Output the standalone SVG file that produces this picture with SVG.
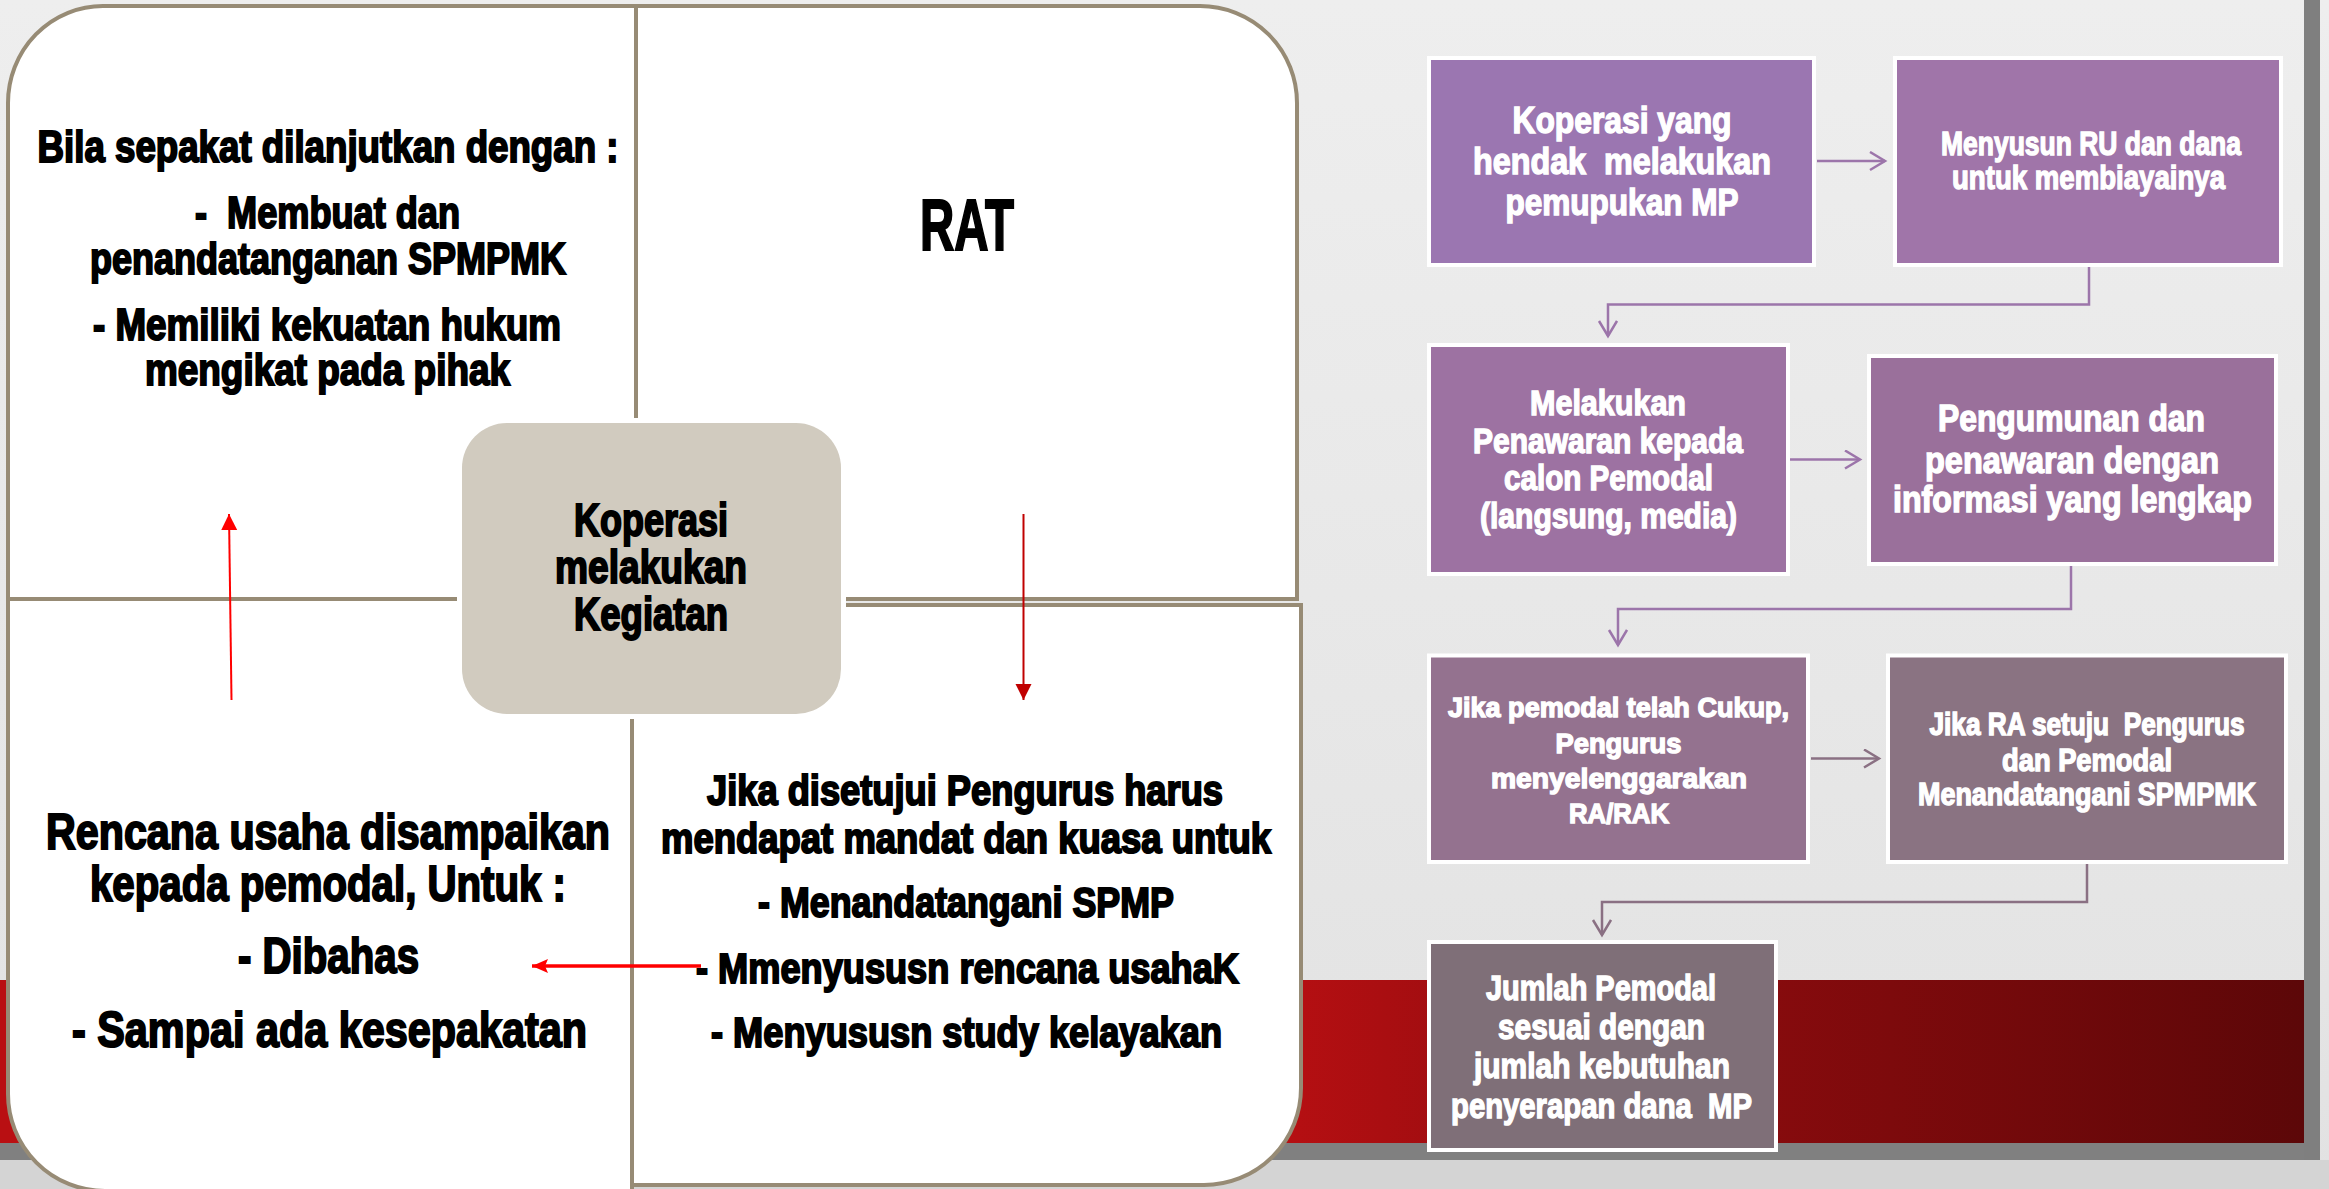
<svg xmlns="http://www.w3.org/2000/svg" width="2329" height="1189" viewBox="0 0 2329 1189">
<style>
.t{font-family:"Liberation Sans Narrow","Liberation Sans",Arial,sans-serif;font-weight:700;text-anchor:middle}
.k{fill:#000;stroke:#000;stroke-width:2}
.w{fill:#fff;stroke:#fff;stroke-width:1.4}
.q{fill:#fff;stroke:#978B75;stroke-width:4}
.box{stroke:#fff;stroke-width:4}
.c1{fill:none;stroke:#9C75AA;stroke-width:2.5}
.c2{fill:none;stroke:#8A7083;stroke-width:2.5}
</style>
<defs>
<linearGradient id="bg" x1="0" y1="0" x2="0" y2="1">
<stop offset="0" stop-color="#EEEEEE"/><stop offset="1" stop-color="#E2E2E2"/>
</linearGradient>
<linearGradient id="red" x1="0" y1="0" x2="1" y2="0">
<stop offset="0" stop-color="#B90F12"/><stop offset="0.56" stop-color="#B50F12"/><stop offset="0.64" stop-color="#9E0D10"/><stop offset="1" stop-color="#5C0708"/>
</linearGradient>
<marker id="chv1" markerUnits="userSpaceOnUse" markerWidth="24" markerHeight="24" refX="18" refY="10" orient="auto">
<path d="M3,1 L18,10 L3,19" fill="none" stroke="#9C75AA" stroke-width="2.5"/>
</marker>
<marker id="chv2" markerUnits="userSpaceOnUse" markerWidth="24" markerHeight="24" refX="18" refY="10" orient="auto">
<path d="M3,1 L18,10 L3,19" fill="none" stroke="#8A7083" stroke-width="2.5"/>
</marker>
<marker id="ar1" markerUnits="userSpaceOnUse" markerWidth="20" markerHeight="20" refX="16" refY="8" orient="auto">
<path d="M0,0 L16,8 L0,16 Z" fill="#FF0000"/>
</marker>
<marker id="ar2" markerUnits="userSpaceOnUse" markerWidth="20" markerHeight="20" refX="16" refY="8" orient="auto">
<path d="M0,0 L16,8 L0,16 Z" fill="#C00000"/>
</marker>
<marker id="ar3" markerUnits="userSpaceOnUse" markerWidth="20" markerHeight="20" refX="16" refY="8" orient="auto">
<path d="M0,1 L16,8 L0,15 L3,8 Z" fill="#FF0000"/>
</marker>
</defs>

<g id="background">
<rect width="2329" height="1189" fill="url(#bg)"/>
<rect x="0" y="1160" width="2329" height="29" fill="#D4D4D4"/>
<rect x="0" y="980" width="2306" height="163" fill="url(#red)"/>
<rect x="0" y="1143" width="2320" height="17" fill="#808080"/>
<rect x="2304" y="0" width="16" height="1160" fill="#7F7F7F"/>
</g>

<g id="quad-top-left">
<path class="q" d="M8,599 L8,103 A95,97 0 0 1 103,6 L636,6 L636,599 Z"/>
</g>
<g id="quad-top-right">
<path class="q" d="M636,6 L1200,6 A97,97 0 0 1 1297,103 L1297,599 L636,599 Z"/>
</g>
<g id="quad-bottom-left">
<path class="q" d="M8,599 L632,599 L632,1191 L105,1191 A97,97 0 0 1 8,1094 Z"/>
</g>
<g id="quad-bottom-right">
<path class="q" d="M632,605 L1301,605 L1301,1088 A97,97 0 0 1 1204,1185 L632,1185 Z"/>
</g>

<g id="text-top-left">
<text class="t k" x="328" y="162" font-size="44" textLength="581" lengthAdjust="spacingAndGlyphs">Bila sepakat dilanjutkan dengan :</text>
<text class="t k" x="327.5" y="228" font-size="44" textLength="265" lengthAdjust="spacingAndGlyphs" xml:space="preserve">-  Membuat dan</text>
<text class="t k" x="328" y="274" font-size="44" textLength="476" lengthAdjust="spacingAndGlyphs">penandatanganan SPMPMK</text>
<text class="t k" x="327" y="340" font-size="44" textLength="468" lengthAdjust="spacingAndGlyphs">- Memiliki kekuatan hukum</text>
<text class="t k" x="327.5" y="385" font-size="44" textLength="365" lengthAdjust="spacingAndGlyphs">mengikat pada pihak</text>
</g>
<g id="text-top-right">
<text class="t k" x="967" y="250" font-size="72" textLength="94" lengthAdjust="spacingAndGlyphs">RAT</text>
</g>
<g id="text-bottom-left">
<text class="t k" x="328" y="849" font-size="50" textLength="564" lengthAdjust="spacingAndGlyphs">Rencana usaha disampaikan</text>
<text class="t k" x="328" y="901" font-size="50" textLength="476" lengthAdjust="spacingAndGlyphs">kepada pemodal, Untuk :</text>
<text class="t k" x="328.5" y="973" font-size="50" textLength="181" lengthAdjust="spacingAndGlyphs">- Dibahas</text>
<text class="t k" x="329.5" y="1047" font-size="50" textLength="515" lengthAdjust="spacingAndGlyphs">- Sampai ada kesepakatan</text>
</g>
<g id="text-bottom-right">
<text class="t k" x="965" y="805" font-size="43" textLength="516" lengthAdjust="spacingAndGlyphs">Jika disetujui Pengurus harus</text>
<text class="t k" x="966" y="853" font-size="43" textLength="610" lengthAdjust="spacingAndGlyphs">mendapat mandat dan kuasa untuk</text>
<text class="t k" x="966" y="917" font-size="43" textLength="416" lengthAdjust="spacingAndGlyphs">- Menandatangani SPMP</text>
<text class="t k" x="967.5" y="983" font-size="43" textLength="543" lengthAdjust="spacingAndGlyphs">- Mmenyususn rencana usahaK</text>
<text class="t k" x="966.5" y="1047" font-size="43" textLength="511" lengthAdjust="spacingAndGlyphs">- Menyususn study kelayakan</text>
</g>

<g id="center-node">
<rect x="457" y="418" width="389" height="301" rx="50" fill="#fff"/>
<rect x="462" y="423" width="379" height="291" rx="45" fill="#D1CBBF"/>
<text class="t k" x="651" y="536" font-size="46" textLength="154" lengthAdjust="spacingAndGlyphs">Koperasi</text>
<text class="t k" x="651" y="583" font-size="46" textLength="192" lengthAdjust="spacingAndGlyphs">melakukan</text>
<text class="t k" x="651" y="630" font-size="46" textLength="154" lengthAdjust="spacingAndGlyphs">Kegiatan</text>
</g>

<g id="red-arrows">
<line x1="231.5" y1="700" x2="229" y2="514" stroke="#FF0000" stroke-width="2" marker-end="url(#ar1)"/>
<line x1="1023.5" y1="514" x2="1023.5" y2="700" stroke="#C00000" stroke-width="2" marker-end="url(#ar2)"/>
<line x1="701" y1="966" x2="532" y2="966" stroke="#FF0000" stroke-width="3.5" marker-end="url(#ar3)"/>
</g>

<g id="box1">
<rect class="box" x="1429" y="58" width="385" height="207" fill="#9B76B1"/>
<text class="t w" x="1622" y="132.5" font-size="36" textLength="219" lengthAdjust="spacingAndGlyphs">Koperasi yang</text>
<text class="t w" x="1622" y="174" font-size="36" textLength="298" lengthAdjust="spacingAndGlyphs" xml:space="preserve">hendak  melakukan</text>
<text class="t w" x="1622" y="215" font-size="36" textLength="233" lengthAdjust="spacingAndGlyphs">pemupukan MP</text>
</g>
<g id="box2">
<rect class="box" x="1895" y="58" width="386" height="207" fill="#A075A9"/>
<text class="t w" x="2091" y="155" font-size="34" textLength="300" lengthAdjust="spacingAndGlyphs">Menyusun RU dan dana</text>
<text class="t w" x="2088.5" y="189" font-size="34" textLength="273" lengthAdjust="spacingAndGlyphs">untuk membiayainya</text>
</g>
<g id="box3">
<rect class="box" x="1429" y="345" width="359" height="229" fill="#9D72A2"/>
<text class="t w" x="1608" y="415" font-size="35" textLength="156" lengthAdjust="spacingAndGlyphs">Melakukan</text>
<text class="t w" x="1608" y="453" font-size="35" textLength="270" lengthAdjust="spacingAndGlyphs">Penawaran kepada</text>
<text class="t w" x="1608.5" y="490" font-size="35" textLength="209" lengthAdjust="spacingAndGlyphs">calon Pemodal</text>
<text class="t w" x="1608.5" y="528" font-size="35" textLength="257" lengthAdjust="spacingAndGlyphs">(langsung, media)</text>
</g>
<g id="box4">
<rect class="box" x="1869" y="356" width="407" height="208" fill="#9A709B"/>
<text class="t w" x="2071.5" y="431" font-size="36" textLength="267" lengthAdjust="spacingAndGlyphs">Pengumunan dan</text>
<text class="t w" x="2072" y="472.5" font-size="36" textLength="294" lengthAdjust="spacingAndGlyphs">penawaran dengan</text>
<text class="t w" x="2072.5" y="512" font-size="36" textLength="359" lengthAdjust="spacingAndGlyphs">informasi yang lengkap</text>
</g>
<g id="box5">
<rect class="box" x="1429" y="655.5" width="379" height="206.5" fill="#94728F"/>
<text class="t w" x="1618.5" y="717" font-size="28" textLength="341" lengthAdjust="spacingAndGlyphs">Jika pemodal telah Cukup,</text>
<text class="t w" x="1618.5" y="752.5" font-size="28" textLength="126" lengthAdjust="spacingAndGlyphs">Pengurus</text>
<text class="t w" x="1619" y="788" font-size="28" textLength="256" lengthAdjust="spacingAndGlyphs">menyelenggarakan</text>
<text class="t w" x="1619" y="822.7" font-size="28" textLength="100" lengthAdjust="spacingAndGlyphs">RA/RAK</text>
</g>
<g id="box6">
<rect class="box" x="1888" y="655.5" width="398" height="206.5" fill="#8A7382"/>
<text class="t w" x="2087" y="735" font-size="31" textLength="315" lengthAdjust="spacingAndGlyphs" xml:space="preserve">Jika RA setuju  Pengurus</text>
<text class="t w" x="2087" y="770.6" font-size="31" textLength="170" lengthAdjust="spacingAndGlyphs">dan Pemodal</text>
<text class="t w" x="2087" y="804.7" font-size="31" textLength="338" lengthAdjust="spacingAndGlyphs">Menandatangani SPMPMK</text>
</g>
<g id="box7">
<rect class="box" x="1429" y="942" width="347" height="208" fill="#7F6F78"/>
<text class="t w" x="1601" y="1000" font-size="35" textLength="230" lengthAdjust="spacingAndGlyphs">Jumlah Pemodal</text>
<text class="t w" x="1601.5" y="1039" font-size="35" textLength="207" lengthAdjust="spacingAndGlyphs">sesuai dengan</text>
<text class="t w" x="1602" y="1077.5" font-size="35" textLength="256" lengthAdjust="spacingAndGlyphs">jumlah kebutuhan</text>
<text class="t w" x="1601.5" y="1117.5" font-size="35" textLength="301" lengthAdjust="spacingAndGlyphs" xml:space="preserve">penyerapan dana  MP</text>
</g>

<g id="connectors">
<path class="c1" d="M1817,161 L1885,161" marker-end="url(#chv1)"/>
<path class="c1" d="M2089,267 L2089,304.5 L1608,304.5 L1608,336" marker-end="url(#chv1)"/>
<path class="c1" d="M1790,459.5 L1860,459.5" marker-end="url(#chv1)"/>
<path class="c1" d="M2071,566 L2071,609 L1618,609 L1618,645" marker-end="url(#chv1)"/>
<path class="c2" d="M1811,758.5 L1879,758.5" marker-end="url(#chv2)"/>
<path class="c2" d="M2087,864 L2087,902 L1602,902 L1602,935" marker-end="url(#chv2)"/>
</g>
</svg>
